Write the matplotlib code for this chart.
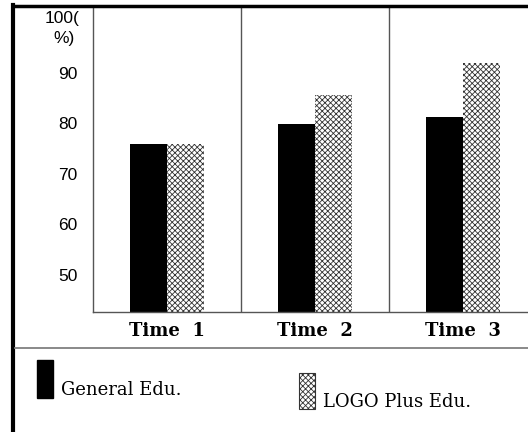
import matplotlib.pyplot as plt
from matplotlib.patches import Rectangle
from matplotlib.lines import Line2D

categories = ['Time  1', 'Time  2', 'Time  3']
general_edu = [76.0, 79.9, 81.3]
logo_edu = [76.0, 85.6, 92.0]
y_ticks = [50, 60, 70, 80, 90]

plt.rcParams['hatch.linewidth'] = 0.6

W, H = 528, 432
fig = plt.figure(figsize=(W / 100, H / 100), dpi=100)


def px(xp, yp):
    return xp / W, 1 - yp / H


# axes box in pixel coords: left 93, right 537, top 6, bottom 312
ax = fig.add_axes([93 / W, (H - 312) / H, (537 - 93) / W, (312 - 6) / H])

x = range(len(categories))
w = 0.25
ax.bar([i - w / 2 for i in x], general_edu, width=w, color='black')
ax.bar([i + w / 2 for i in x], logo_edu, width=w, color='white',
       edgecolor='#333333', linewidth=0, hatch='xxxxxx')

ax.set_xlim(-0.5, 2.5)
ax.set_ylim(42.7, 103.2)
ax.set_xticks(list(x))
ax.set_xticklabels(categories, family='DejaVu Serif', fontsize=13, fontweight='bold')
ax.set_yticks(y_ticks)
ax.set_yticklabels([str(v) for v in y_ticks], family='Liberation Sans', fontsize=12.5)
ax.tick_params(length=0)
ax.tick_params(axis='y', pad=11)
ax.tick_params(axis='x', pad=7)

for s in ['top', 'right']:
    ax.spines[s].set_visible(False)
for s in ['left', 'bottom']:
    ax.spines[s].set_color('#555555')
    ax.spines[s].set_linewidth(1.0)
for b in [0.5, 1.5]:
    ax.axvline(b, color='#555555', linewidth=1.0)

# y unit label
fig.text(*px(80, 18), '100(', ha='right', va='center', family='Liberation Sans', fontsize=12.5)
fig.text(*px(75, 38), '%)', ha='right', va='center', family='Liberation Sans', fontsize=12.5)

# frame lines
fig.add_artist(Line2D([px(13, 0)[0], 1], [px(0, 6)[1]] * 2, color='black', linewidth=2.5))
fig.add_artist(Line2D([px(13, 0)[0]] * 2, [px(0, 5)[1], 0], color='black', linewidth=3))
fig.add_artist(Line2D([px(15, 0)[0], 1], [px(0, 348)[1]] * 2, color='#808080', linewidth=1.3))

# legend
fig.add_artist(Rectangle(px(37, 398), 16 / W, 38 / H, facecolor='black', edgecolor='black'))
fig.text(*px(61, 390), 'General Edu.', family='DejaVu Serif', fontsize=13, va='center')
fig.add_artist(Rectangle(px(299, 409), 16 / W, 36 / H, facecolor='white',
                         edgecolor='#333333', linewidth=0.8, hatch='xxxxxx'))
fig.text(*px(323, 402), 'LOGO Plus Edu.', family='DejaVu Serif', fontsize=13, va='center')

fig.savefig('out.png', dpi=100)
